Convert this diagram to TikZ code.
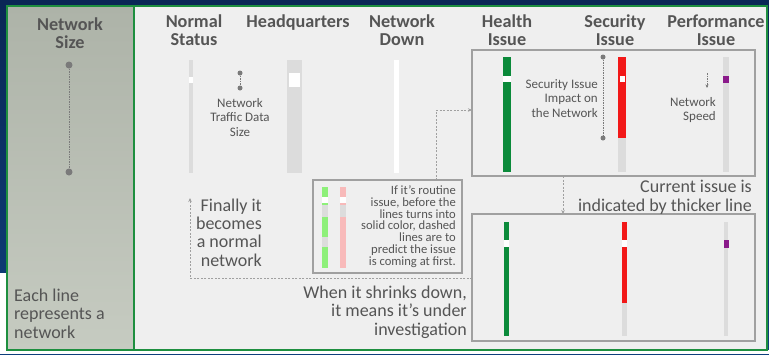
\documentclass[tikz,border=0pt]{standalone}
\usepackage{fontspec}
\setmainfont{Carlito}
\usetikzlibrary{arrows.meta}
\definecolor{bgtop}{HTML}{0A2756}
\definecolor{bgbot}{HTML}{0E3F7C}
\definecolor{grn}{HTML}{1E8F3F}
\definecolor{lpa}{HTML}{ADB3A8}
\definecolor{lpb}{HTML}{C6CBC1}
\definecolor{mainbg}{HTML}{EFEFEF}
\definecolor{txt}{HTML}{555555}
\definecolor{barg}{HTML}{DCDCDC}
\definecolor{dkg}{HTML}{0B8A3A}
\definecolor{rd}{HTML}{F21818}
\definecolor{pur}{HTML}{8A1A8A}
\definecolor{lgr}{HTML}{8EF07A}
\definecolor{pnk}{HTML}{F8BABA}
\definecolor{boxc}{HTML}{A0A0A0}
\definecolor{dotc}{HTML}{7A7A7A}
\tikzset{
  hdr/.style={font=\fontsize{18.2}{18}\selectfont\bfseries, text=txt, align=center, inner sep=0, anchor=base},
  body/.style={font=\fontsize{18}{18.3}\selectfont, text=txt, inner sep=0, anchor=base east, align=right},
  small/.style={font=\fontsize{13}{14.5}\selectfont, text=txt, inner sep=0, anchor=base east, align=right},
  tiny/.style={font=\fontsize{12.6}{11.7}\selectfont, text=txt, inner sep=0, anchor=base east, align=right},
  ibox/.style={draw=boxc, line width=1.3, inner sep=0, outer sep=0, anchor=north west},
  conn/.style={draw=boxc, line width=0.8, dash pattern=on 2pt off 1.5pt, -{Stealth[length=4pt,width=3.5pt]}},
  bigdot/.style={circle, fill=dotc, minimum size=7, inner sep=0},
  smalldot/.style={circle, fill=dotc, minimum size=5, inner sep=0},
  dotline/.style={draw=dotc, line width=0.8, dash pattern=on 1.5pt off 1pt}
}
\begin{document}
\begin{tikzpicture}[x=1pt,y=-1pt]
\useasboundingbox (0,0) rectangle (769,354);
% background
\shade[top color=bgtop, bottom color=bgbot] (0,0) rectangle (769,354);
\fill[white] (0,273) rectangle (8,354);
\fill[white] (0,350) rectangle (769,354);
% panels
\shade[top color=lpa, bottom color=lpb] (7,6) rectangle (134,350);
\draw[grn, line width=2] (7,6) rectangle (134,350);
\filldraw[fill=mainbg, draw=grn, line width=2] (134,6) rectangle (767,350);

% headers (anchor = baseline of last line)
\node[hdr] (hsize) at (70,48) {Network\\Size};
\node[hdr] (hnorm) at (194,45.5) {Normal\\Status};
\node[hdr] (hhq) at (298,27.5) {Headquarters};
\node[hdr] (hdown) at (402,45.5) {Network\\Down};
\node[hdr] (hhealth) at (507,45.5) {Health\\Issue};
\node[hdr] (hsec) at (615,45.5) {Security\\Issue};
\node[hdr] (hperf) at (716,45.5) {Performance\\Issue};

% left panel indicator
\node[bigdot] (s1) at (69,65) {};
\node[bigdot] (s2) at (69,172) {};
\draw[dotline] (s1) -- (s2);
\node[font=\fontsize{18}{18.3}\selectfont, text=txt, inner sep=0, anchor=base west, align=left] (each) at (14,338) {Each line\\represents a\\network};

% normal status bar
\fill[barg] (189,60) rectangle (193,173);
\fill[white] (189,77) rectangle (193,83);
% traffic indicator
\node[smalldot] (t1) at (240,73) {};
\node[smalldot] (t2) at (240,88) {};
\draw[dotline] (t1) -- (t2);
\node[small, anchor=base, align=center] (traffic) at (240,136) {Network\\Traffic Data\\Size};
% headquarters bar
\fill[barg] (287,60) rectangle (302,173);
\fill[white] (289,73) rectangle (300,87);
% network down bar
\fill[white] (394,60) rectangle (399,173);

% boxes
\node[ibox, minimum width=283, minimum height=126] (box1) at (472,50) {};
\node[ibox, minimum width=283, minimum height=127] (box2) at (472,214) {};
\node[ibox, minimum width=149, minimum height=93] (rbox) at (313,180) {};

% box1 bars
\fill[dkg] (503,57) rectangle (511,172);
\fill[white] (503,76) rectangle (511,82);
\fill[barg] (618,57) rectangle (626,172);
\fill[rd] (618,57) rectangle (626,138);
\fill[white] (619.5,76) rectangle (624.5,82);
\fill[barg] (723,57) rectangle (729,172);
\fill[pur] (723,76) rectangle (729,83);
\node[smalldot] (i1) at (603,57) {};
\node[smalldot] (i2) at (603,138) {};
\draw[dotline] (i1) -- (i2);
\node[small] (secimp) at (598,117) {Security Issue\\Impact on\\the Network};
\coordinate (sp1) at (707,73);
\coordinate (sp2) at (707,88);
\draw[dotline, -{Stealth[length=3.5pt,width=3pt]}] (sp1) -- (sp2);
\node[small] (speed) at (716,120.5) {Network\\Speed};

% box2 bars
\fill[dkg] (504,222) rectangle (509,336);
\fill[white] (504,240) rectangle (509,247);
\fill[barg] (622,222) rectangle (627,336);
\fill[rd] (622,222) rectangle (627,303);
\fill[white] (622,240) rectangle (627,247);
\fill[barg] (724,222) rectangle (728,336);
\fill[pur] (723.5,240) rectangle (728.5,248);

% routine box bars
\fill[lgr] (322,187) rectangle (328,268);
\fill[white] (322,197) rectangle (328,203);
\fill[barg] (322,205) rectangle (328,217);
\fill[barg] (322,237) rectangle (328,247);
\fill[pnk] (340,187) rectangle (346,268);
\fill[white] (340,197) rectangle (346,203);
\fill[barg] (340,205) rectangle (346,217);
\node[tiny] (routine) at (456,265) {If it’s routine\\issue, before the\\lines turns into\\solid color, dashed\\lines are to\\predict the issue\\is coming at first.};

% body texts
\node[body] (final) at (262,266) {Finally it\\becomes\\a normal\\network};
\node[body] (shrink) at (467,335) {When it shrinks down,\\it means it’s under\\investigation};
\node[body] (current) at (752,211) {Current issue is\\indicated by thicker line};

% connectors
\coordinate (c1) at (436,110);
\draw[conn] (c1 |- rbox.north) |- (box1.west |- c1);
\coordinate (c2) at (190,278);
\coordinate (fin) at (190,198);
\draw[conn] (box2.west |- c2) -| (fin);
\coordinate (c3) at (563,0);
\draw[conn] (box1.south -| c3) -- (box2.north -| c3);
\end{tikzpicture}
\end{document}
